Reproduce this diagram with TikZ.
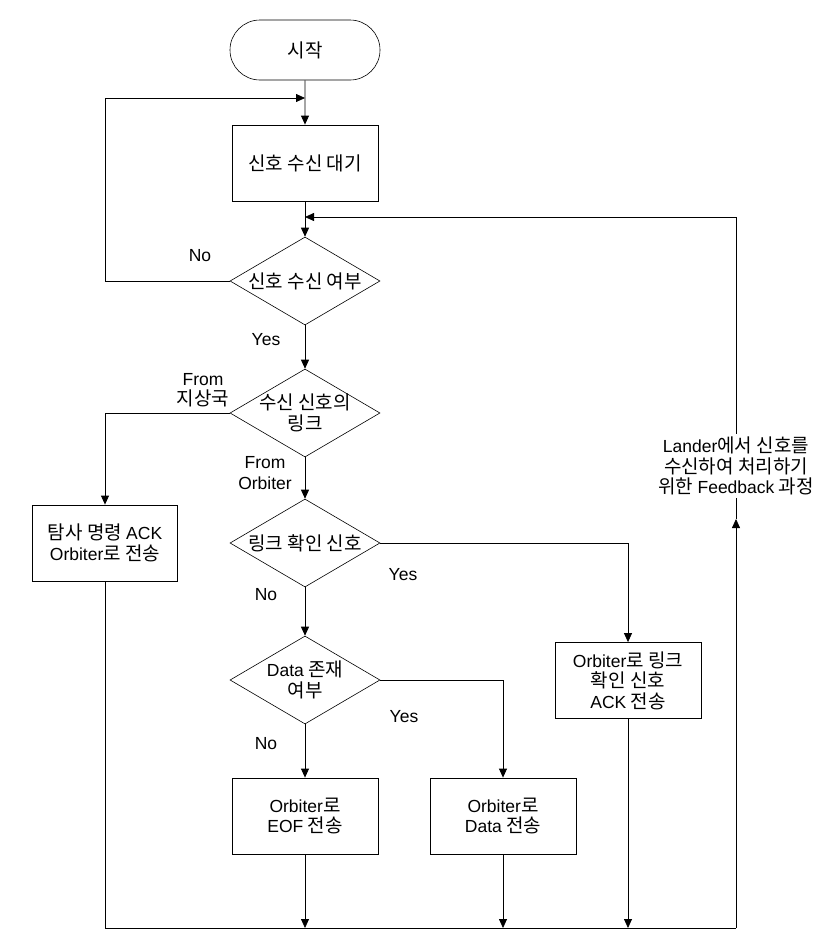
\documentclass[tikz,border=0pt]{standalone}
\usepackage{fontspec}
\setmainfont{Noto Sans CJK KR}[Scale=1.085]
\newfontfamily\lat{Liberation Sans}
\usetikzlibrary{arrows.meta,shapes.geometric,shapes.misc}
\newcommand\myfs{\fontsize{17.5}{20.5}\selectfont}
\begin{document}
\begin{tikzpicture}[x=1pt,y=-1pt,
  box/.style={draw, rectangle, minimum width=146pt, minimum height=76pt, inner sep=0pt, align=center, font=\myfs, line width=0.8pt},
  dia/.style={draw, diamond, minimum width=150pt, minimum height=88pt, inner sep=0pt, line width=0.6pt},
  term/.style={draw, rounded rectangle, minimum width=150pt, minimum height=60pt, inner sep=0pt, font=\myfs, line width=0.6pt},
  arr/.style={-{Triangle[length=9pt,width=8pt]}, line width=0.8pt},
  ln/.style={line width=0.8pt},
  lbl/.style={align=center, font=\myfs, inner sep=0pt},
  latlbl/.style={align=center, font=\myfs\lat, inner sep=0pt}]
\fill[white] (0,0) rectangle (830,948);
\useasboundingbox (0,0) rectangle (830,948);

% nodes
\node[term] (start) at (305,50) {시작};
\node[box] (b1) at (305,163) {신호 수신 대기};
\node[dia, label={[lbl]center:신호 수신 여부}] (d1) at (305,281) {};
\node[dia, label={[lbl]center:{수신 신호의\\링크}}] (d2) at (305,413) {};
\node[dia, label={[lbl]center:링크 확인 신호}] (d3) at (305,543) {};
\node[dia, label={[lbl]center:{{\lat Data} 존재\\여부}}] (d4) at (305,680) {};
\node[box, minimum width=145pt] (ack) at (105,543) {탐사 명령 {\lat ACK}\\{\lat Orbiter}로 전송};
\node[box] (link) at (628,680.5) {{\lat Orbiter}로 링크\\확인 신호\\{\lat ACK} 전송};
\node[box] (eof) at (305,816) {{\lat Orbiter}로\\{\lat EOF} 전송};
\node[box] (data) at (503,816) {{\lat Orbiter}로\\{\lat Data} 전송};
\node[lbl, fill=white, inner sep=3pt] (fb) at (736,466) {{\lat Lander}에서 신호를\\수신하여 처리하기\\위한 {\lat Feedback} 과정};

% branch labels
\node[latlbl] (lno1) at (200,256) {No};
\node[latlbl] (lyes1) at (266,340) {Yes};
\node[lbl] (lfg) at (203,390) {{\lat From}\\지상국};
\node[latlbl] (lfo) at (265,473) {From\\Orbiter};
\node[latlbl] (lyes2) at (403,575) {Yes};
\node[latlbl] (lno2) at (266,595) {No};
\node[latlbl] (lyes3) at (404,717) {Yes};
\node[latlbl] (lno3) at (266,744) {No};

% junction coordinates
\coordinate (j1) at (305,98);
\coordinate (lpt) at (105,98);
\coordinate (j2) at (305,217);
\coordinate (br) at (736,928);
\coordinate (e1) at (305,928);
\coordinate (e2) at (503,928);
\coordinate (e3) at (628,928);
\coordinate (fbm) at (736,519);

% connectors
\draw[arr] (start) -- (b1);
\draw[arr] (b1) -- (d1);
\draw[arr] (d1.west) -| (lpt) -- (j1);
\draw[arr] (d1) -- (d2);
\draw[arr] (d2.west) -| (ack.north);
\draw[arr] (d2) -- (d3);
\draw[arr] (d3.east) -| (link.north);
\draw[arr] (d3) -- (d4);
\draw[arr] (d4.east) -| (data.north);
\draw[arr] (d4) -- (eof);
\draw[ln] (ack.south) |- (br);
\draw[arr] (eof) -- (e1);
\draw[arr] (data) -- (e2);
\draw[arr] (link) -- (e3);
\draw[arr] (br) -- (fbm);
\draw[ln] (fbm) -- (fb.south);
\draw[arr] (fb.north) |- (j2);
\end{tikzpicture}
\end{document}
